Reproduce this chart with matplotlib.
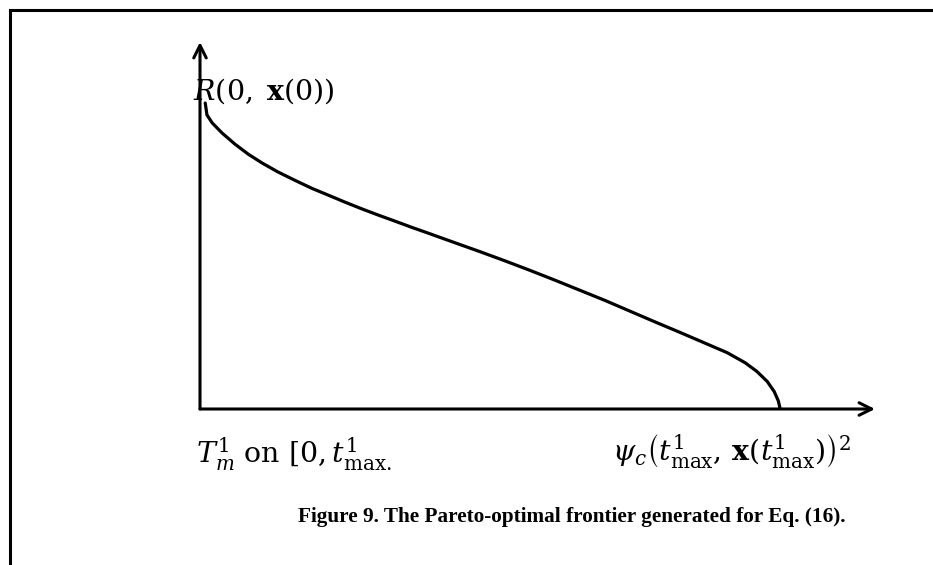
import matplotlib
matplotlib.use("Agg")
import matplotlib.pyplot as plt
from matplotlib.lines import Line2D

plt.rcParams['mathtext.fontset'] = 'dejavuserif'
plt.rcParams['font.family'] = ['Liberation Serif', 'DejaVu Serif']

# frontier (normalised: x=1 at curve end, y=1 at curve start)
psi = [0.009, 0.012, 0.021, 0.038, 0.060, 0.083, 0.107, 0.134, 0.164, 0.193,
       0.221, 0.250, 0.279, 0.307, 0.336, 0.366, 0.393, 0.440, 0.483, 0.526,
       0.569, 0.612, 0.655, 0.698, 0.741, 0.784, 0.828, 0.871, 0.909, 0.940,
       0.960, 0.978, 0.990, 0.997, 1.000]
reward = [1.000, 0.961, 0.935, 0.902, 0.866, 0.833, 0.804, 0.775, 0.747, 0.721,
          0.699, 0.676, 0.654, 0.634, 0.614, 0.593, 0.575, 0.543, 0.514, 0.484,
          0.453, 0.421, 0.388, 0.355, 0.320, 0.285, 0.250, 0.215, 0.184, 0.151,
          0.123, 0.090, 0.057, 0.027, 0.003]

Y_LABEL = r'$R(0,\;\mathbf{x}(0))$'
X_LEFT = r'$T^1_m\ \mathrm{on}\ [0,t^1_{\mathrm{max}.}$'
X_RIGHT = r'$\psi_c\left(t^1_{\mathrm{max}},\,\mathbf{x}(t^1_{\mathrm{max}})\right)^2$'
CAPTION = "Figure 9. The Pareto-optimal frontier generated for Eq. (16)."

W, H = 933, 565
fig = plt.figure(figsize=(W / 100, H / 100), dpi=100)

# origin at px (200, 409), arrow tips at x=875 / y=42
ax = fig.add_axes([200 / W, (H - 409) / H, 675 / W, 367 / H])
ax.set_xlim(0, 675 / 580)
ax.set_ylim(0, 367 / 306)
ax.axis('off')

ax.plot(psi, reward, color='black', lw=2.3, solid_capstyle='round',
        solid_joinstyle='round')

arrow = dict(arrowstyle='->,head_length=0.9,head_width=0.45', lw=2.2,
             color='black', shrinkA=0, shrinkB=0)
ax.annotate('', xy=(1, 0), xytext=(0, 0), xycoords='axes fraction',
            arrowprops=arrow, annotation_clip=False)
ax.annotate('', xy=(0, 1), xytext=(0, 0), xycoords='axes fraction',
            arrowprops=arrow, annotation_clip=False)

# page frame (left and top only)
fig.add_artist(Line2D([10 / W, 10 / W], [0, 1 - 10 / H], color='black', lw=2.2))
fig.add_artist(Line2D([10 / W, 1], [1 - 10 / H, 1 - 10 / H], color='black', lw=2.2))

fig.text(193 / W, 1 - 91 / H, Y_LABEL, fontsize=20.5, ha='left', va='center')
fig.text(196 / W, 1 - 454 / H, X_LEFT, fontsize=20.5, ha='left', va='center')
fig.text(612 / W, 1 - 451 / H, X_RIGHT, fontsize=20.5, ha='left', va='center')
fig.text(572 / W, 1 - 517 / H, CAPTION, fontsize=15.3, fontweight='bold',
         ha='center', va='center')

fig.savefig('out.png', dpi=100)
